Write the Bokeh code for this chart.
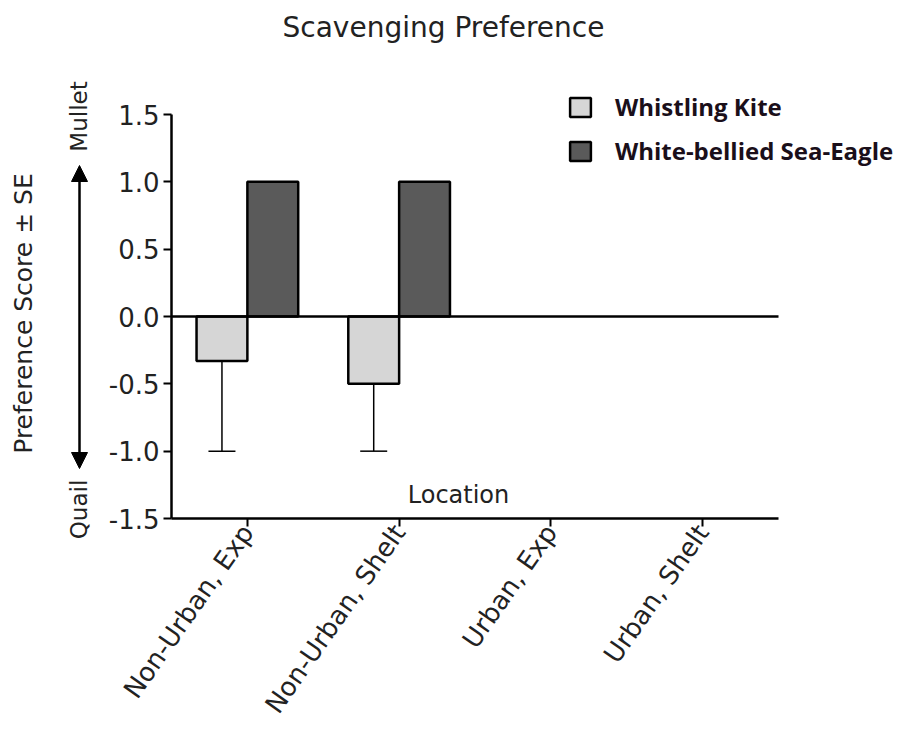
import math
from bokeh.plotting import figure
from bokeh.layouts import row
from bokeh.models import (Range1d, FixedTicker, PrintfTickFormatter, Label, Arrow,
                          NormalHead, Legend, LegendItem, ColumnDataSource, Whisker, TeeHead)
from bokeh.embed import file_html
from bokeh.resources import INLINE

# ---- data ----
categories = ["Non-Urban, Exp", "Non-Urban, Shelt", "Urban, Exp", "Urban, Shelt"]
data_cats = ["Non-Urban, Exp", "Non-Urban, Shelt"]
kite_mean = [-0.33, -0.5]
kite_se = [0.67, 0.5]
eagle_mean = [1.0, 1.0]
eagle_se = [0.0, 0.0]
y_ticks = [-1.5, -1.0, -0.5, 0.0, 0.5, 1.0, 1.5]
series_names = ["Whistling Kite", "White-bellied Sea-Eagle"]

FONT = "DejaVu Sans"
TXT = "#222222"
kite_color = "#d6d6d6"
eagle_color = "#5a5a5a"

# ---- layout geometry (pixels) ----
W, H = 912, 731
LEFT_W = 100
FRAME_L, FRAME_R = 171, 906      # main frame in page px
Y_TOP_PX, Y_BOT_PX = 114, 518    # pixel rows of y = 1.5 and y = -1.5
ppy = (Y_BOT_PX - Y_TOP_PX) / 3.0
ppx = (778 - FRAME_L) / len(categories)
y_top = 1.5 + Y_TOP_PX / ppy
y_bot_left = -1.5 - (H - Y_BOT_PX) / ppy
x_end = len(categories) + (FRAME_R - 778) / ppx

idx = {c: i + 0.5 for i, c in enumerate(categories)}
off = 0.1675
wbar = 0.335
src = ColumnDataSource(dict(
    xk=[idx[c] - off for c in data_cats],
    xe=[idx[c] + off for c in data_cats],
    kite=kite_mean,
    kite_low=[m - s for m, s in zip(kite_mean, kite_se)],
    eagle=eagle_mean,
))

# ---- main figure ----
p = figure(width=W - LEFT_W, height=H, x_range=Range1d(0, x_end),
           y_range=Range1d(-1.5, y_top), output_backend="svg", toolbar_location=None,
           min_border_left=FRAME_L - LEFT_W, min_border_right=W - FRAME_R,
           min_border_top=0, min_border_bottom=H - Y_BOT_PX)
p.frame_align = False
p.outline_line_color = None
p.xgrid.visible = False
p.ygrid.visible = False

r_kite = p.vbar(x="xk", top="kite", bottom=0, width=wbar, source=src,
                fill_color=kite_color, line_color="black", line_width=2.5)
r_eagle = p.vbar(x="xe", top="eagle", bottom=0, width=wbar, source=src,
                 fill_color=eagle_color, line_color="black", line_width=2.5)

p.add_layout(Whisker(base="xk", upper="kite", lower="kite_low", source=src,
                     line_width=1.5, line_color="black", upper_head=None,
                     lower_head=TeeHead(size=27, line_width=1.5, line_color="black")))

# zero line across the category span
p.segment(x0=[0], y0=[0], x1=[len(categories)], y1=[0], line_color="black", line_width=2.5)

p.yaxis.ticker = FixedTicker(ticks=y_ticks)
p.yaxis.formatter = PrintfTickFormatter(format="%.1f")
p.yaxis.bounds = (-1.5, 1.5)
p.xaxis.ticker = FixedTicker(ticks=[idx[c] for c in categories])
p.xaxis.major_label_overrides = {idx[c]: c for c in categories}
p.xaxis.bounds = (0, len(categories))
for ax in (p.xaxis, p.yaxis):
    ax.axis_line_width = 2.5
    ax.axis_line_color = "black"
    ax.major_tick_line_width = 2
    ax.major_tick_line_color = "black"
    ax.major_tick_out = 8
    ax.major_tick_in = 0
    ax.minor_tick_line_color = None
    ax.major_label_text_font = FONT
    ax.major_label_text_color = TXT
p.yaxis.major_label_text_font_size = "26px"
p.xaxis.major_label_text_font_size = "26px"
p.yaxis.major_label_standoff = 4
p.xaxis.major_label_orientation = math.radians(55)
p.xaxis.major_label_standoff = 1

def xpx(px):
    return (px - FRAME_L) / ppx

def ypx(py):
    return 1.5 - (py - Y_TOP_PX) / ppy

p.add_layout(Label(x=xpx(443), y=ypx(27), text="Scavenging Preference", text_font=FONT,
                   text_font_size="28px", text_align="center", text_baseline="middle",
                   text_color=TXT))
p.add_layout(Label(x=xpx(458), y=ypx(494), text="Location", text_font=FONT,
                   text_font_size="24px", text_align="center", text_baseline="middle",
                   text_color=TXT))

legend = Legend(items=[LegendItem(label=series_names[0], renderers=[r_kite]),
                       LegendItem(label=series_names[1], renderers=[r_eagle])],
                location=(567 - FRAME_L, Y_BOT_PX - 167), border_line_color=None,
                background_fill_alpha=0, padding=0, margin=0, spacing=11,
                glyph_width=26, glyph_height=24, label_standoff=22, label_height=24,
                label_text_font="Open Sans", label_text_font_style="bold",
                label_text_font_size="24px", label_text_color="#1a0f1a")
p.add_layout(legend)

# ---- left strip: axis title with Mullet/Quail arrow (same y scale as main plot) ----
q = figure(width=LEFT_W, height=H, x_range=Range1d(0, LEFT_W),
           y_range=Range1d(y_bot_left, y_top), output_backend="svg", toolbar_location=None,
           x_axis_location=None, y_axis_location=None,
           min_border_left=0, min_border_right=0, min_border_top=0, min_border_bottom=0)
q.frame_align = False
q.outline_line_color = None
q.xgrid.visible = False
q.ygrid.visible = False

def vlabel(x, y, text, size):
    q.add_layout(Label(x=x, y=y, text=text, text_font=FONT, text_font_size=size,
                       text_align="center", text_baseline="middle", angle=math.pi / 2,
                       text_color=TXT))

vlabel(23, ypx(313), "Preference Score ± SE", "25px")
vlabel(78, ypx(116), "Mullet", "23px")
vlabel(78, ypx(509), "Quail", "23px")
q.add_layout(Arrow(x_start=79, y_start=ypx(468), x_end=79, y_end=ypx(165),
                   line_width=2.5, line_color="black",
                   start=NormalHead(size=16, fill_color="black", line_color="black"),
                   end=NormalHead(size=16, fill_color="black", line_color="black")))

layout = row(q, p, spacing=0)
open("out.html", "w").write(file_html(layout, INLINE))
